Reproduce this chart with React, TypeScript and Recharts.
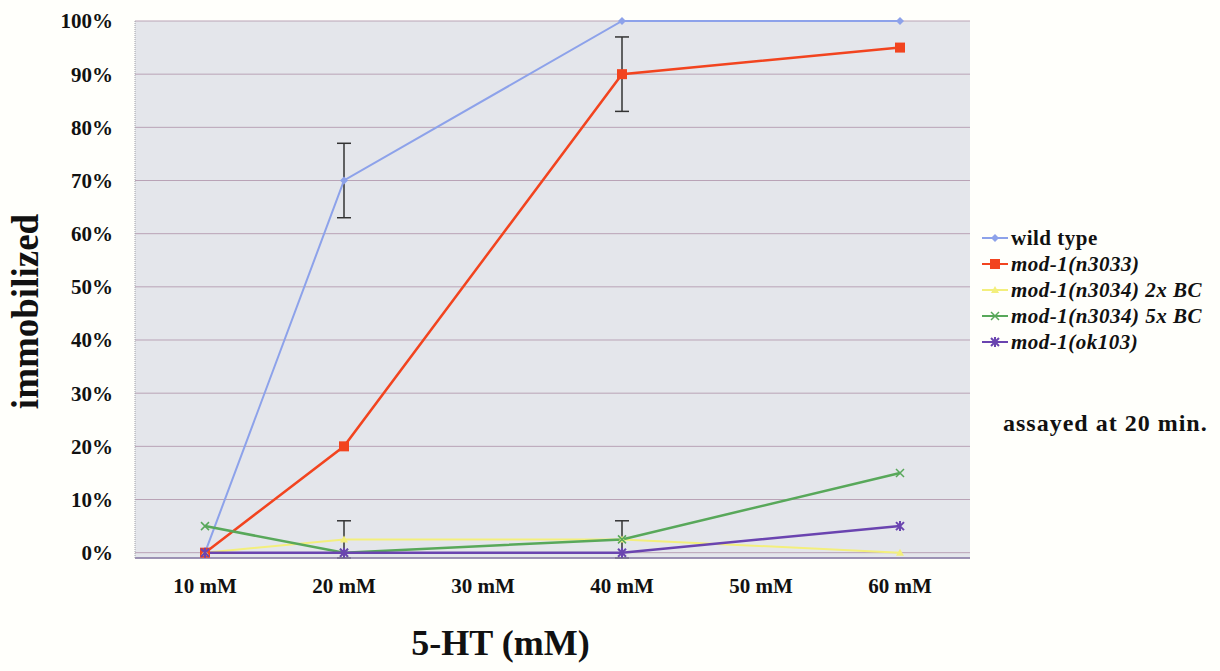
import React from "react";
import {
  CartesianGrid,
  ErrorBar,
  Line,
  LineChart,
  XAxis,
  YAxis,
} from "recharts";

const DOSES = ["10 mM", "20 mM", "30 mM", "40 mM", "50 mM", "60 mM"];
const Y_TICKS = [0, 10, 20, 30, 40, 50, 60, 70, 80, 90, 100];

// null = not assayed at that dose (line connects over it)
const WILD_TYPE = [0, 70, null, 100, null, 100];
const N3033 = [0, 20, null, 90, null, 95];
const N3034_2X = [0, 2.5, null, 2.5, null, 0];
const N3034_5X = [5, 0, null, 2.5, null, 15];
const OK103 = [0, 0, null, 0, null, 5];

const WILD_TYPE_ERR = [null, 7, null, null, null, null];
const N3033_ERR = [null, null, null, 7, null, null];
const N3034_2X_ERR = [null, 3.5, null, 3.5, null, null];

const SERIES = [
  { key: "wt", name: "wild type", color: "#8da2ea", italic: false, width: 2, shape: "diamond" },
  { key: "n3033", name: "mod-1(n3033)", color: "#f2441f", italic: true, width: 2.5, shape: "square" },
  { key: "n3034_2x", name: "mod-1(n3034) 2x BC", color: "#f3ef7c", italic: true, width: 2, shape: "triangle" },
  { key: "n3034_5x", name: "mod-1(n3034) 5x BC", color: "#58a85a", italic: true, width: 2.5, shape: "cross" },
  { key: "ok103", name: "mod-1(ok103)", color: "#6a44b0", italic: true, width: 2.5, shape: "star" },
];

const data = DOSES.map((dose, i) => ({
  dose,
  wt: WILD_TYPE[i],
  n3033: N3033[i],
  n3034_2x: N3034_2X[i],
  n3034_5x: N3034_5X[i],
  ok103: OK103[i],
  wtErr: WILD_TYPE_ERR[i],
  n3033Err: N3033_ERR[i],
  n3034_2xErr: N3034_2X_ERR[i],
}));

const SERIF = '"Liberation Serif", "Times New Roman", serif';

function Marker({ shape, color, cx, cy }: any) {
  if (cx == null || cy == null || isNaN(cx) || isNaN(cy)) return null;
  switch (shape) {
    case "diamond":
      return <path d={`M${cx},${cy - 4}L${cx + 4},${cy}L${cx},${cy + 4}L${cx - 4},${cy}Z`} fill={color} />;
    case "square":
      return <rect x={cx - 5} y={cy - 5} width={10} height={10} fill={color} />;
    case "triangle":
      return <path d={`M${cx},${cy - 4}L${cx + 4},${cy + 3}L${cx - 4},${cy + 3}Z`} fill={color} />;
    case "cross":
      return (
        <path d={`M${cx - 4},${cy - 4}L${cx + 4},${cy + 4}M${cx + 4},${cy - 4}L${cx - 4},${cy + 4}`} stroke={color} strokeWidth={1.5} />
      );
    default:
      return (
        <path
          d={`M${cx - 4},${cy - 4}L${cx + 4},${cy + 4}M${cx + 4},${cy - 4}L${cx - 4},${cy + 4}M${cx},${cy - 5}L${cx},${cy + 5}`}
          stroke={color}
          strokeWidth={2}
        />
      );
  }
}

function LegendBox() {
  return (
    <div style={{ fontFamily: SERIF, fontWeight: "bold", fontSize: 21, letterSpacing: 0.5, color: "#111" }}>
      {SERIES.map((s) => (
        <div key={s.key} style={{ display: "flex", alignItems: "center", height: 26 }}>
          <svg width={27} height={12} style={{ marginRight: 2 }}>
            <line x1={0} y1={6} x2={26} y2={6} stroke={s.color} strokeWidth={2} />
            <Marker shape={s.shape} color={s.color} cx={13} cy={6} />
          </svg>
          <span style={{ fontStyle: s.italic ? "italic" : "normal", whiteSpace: "nowrap" }}>{s.name}</span>
        </div>
      ))}
    </div>
  );
}

function YTitle({ viewBox }: any) {
  const cy = viewBox.y + viewBox.height / 2 + 22;
  return (
    <text
      x={38}
      y={cy}
      transform={`rotate(-90, 38, ${cy})`}
      textAnchor="middle"
      fontFamily={SERIF}
      fontWeight="bold"
      fontSize={37}
      fill="#111"
    >
      immobilized
    </text>
  );
}

function XTitle({ viewBox }: any) {
  return (
    <text
      x={viewBox.x + viewBox.width / 2 - 52}
      y={655}
      textAnchor="middle"
      fontFamily={SERIF}
      fontWeight="bold"
      fontSize={36}
      fill="#111"
    >
      5-HT (mM)
    </text>
  );
}

export default function App() {
  const tickStyle = { fontFamily: SERIF, fontWeight: "bold", fontSize: 21, fill: "#111" };
  return (
    <div style={{ position: "absolute", left: 0, top: 0, width: 1220, height: 671, background: "#fffffb" }}>
      <LineChart width={1220} height={671} data={data} margin={{ top: 21, right: 250, bottom: 73, left: 0 }}>
        <CartesianGrid vertical={false} stroke="#b9a3b6" fill="#e4e6eb" />
        <XAxis
          dataKey="dose"
          height={40}
          tick={tickStyle}
          tickLine={false}
          axisLine={{ stroke: "#8a7fa8", strokeWidth: 1.5 }}
          tickMargin={14}
          interval={0}
          padding={{ left: 70, right: 70 }}
          label={<XTitle />}
        />
        <YAxis
          width={135}
          domain={[0, 100]}
          ticks={Y_TICKS}
          tickFormatter={(v) => `${v}%`}
          tick={tickStyle}
          tickLine={false}
          axisLine={{ stroke: "#a0a0a8", strokeDasharray: "1 1" }}
          tickMargin={16}
          label={<YTitle />}
        />
        <YAxis
          yAxisId="frame"
          orientation="right"
          width={0}
          domain={[0, 100]}
          tick={false}
          tickLine={false}
          axisLine={{ stroke: "#c8c8cc" }}
        />
        {SERIES.map((s) => (
          <Line
            key={s.key}
            dataKey={s.key}
            name={s.name}
            stroke={s.color}
            strokeWidth={s.width}
            connectNulls
            isAnimationActive={false}
            dot={(p: any) => <Marker key={`${s.key}-${p.index}`} shape={s.shape} color={s.color} cx={p.cx} cy={p.cy} />}
            activeDot={false}
          >
            {s.key === "wt" && <ErrorBar dataKey="wtErr" width={7} stroke="#333" strokeWidth={1.5} direction="y" />}
            {s.key === "n3033" && <ErrorBar dataKey="n3033Err" width={7} stroke="#333" strokeWidth={1.5} direction="y" />}
            {s.key === "n3034_2x" && (
              <ErrorBar dataKey="n3034_2xErr" width={7} stroke="#333" strokeWidth={1.5} direction="y" />
            )}
          </Line>
        ))}
      </LineChart>
      <div style={{ position: "absolute", left: 982, top: 225 }}>
        <LegendBox />
      </div>
      <div
        style={{
          position: "absolute",
          left: 1003,
          top: 410,
          fontFamily: SERIF,
          fontWeight: "bold",
          fontSize: 24,
          letterSpacing: 1,
          color: "#111",
          whiteSpace: "nowrap",
        }}
      >
        assayed at 20 min.
      </div>
    </div>
  );
}
